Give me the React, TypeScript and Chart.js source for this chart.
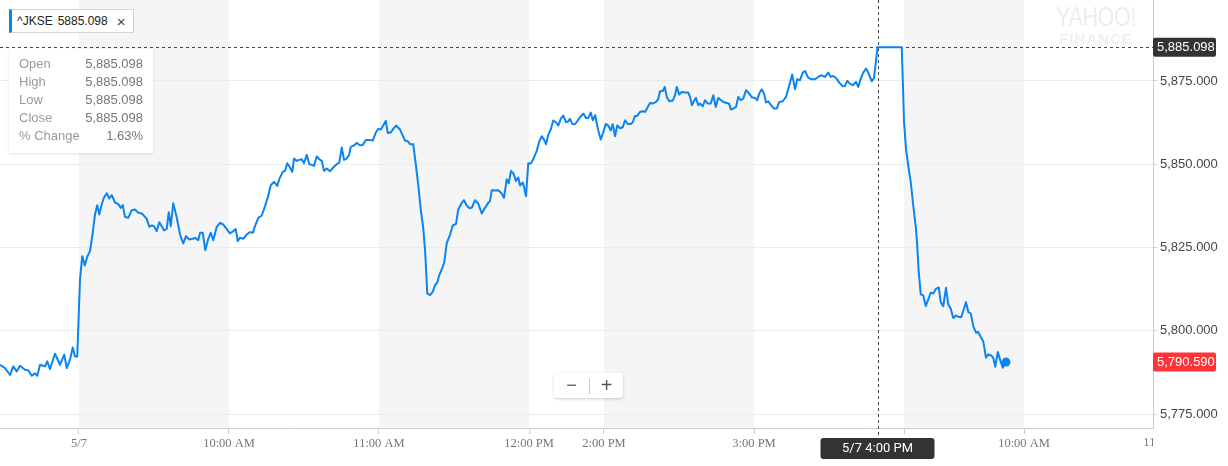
import React, { useEffect, useRef } from "react";
import { Chart, registerables } from "chart.js";

Chart.register(...registerables);

// ---- Data (x = trading minutes from 5/7 9:00 AM, ordinal timeline) ----
const prevDayTimes = [-31.6, -29.6, -27.6, -26.3, -24.9, -23.6, -21.6, -20.3, -18.9, -17.6, -16.7, -15.6, -13.6, -12.7, -11.6, -9.6, -7.6, -5.9, -4.9, -3.6, -2.5, -1.6, -0.7];
const prevDayValues = [5789.8, 5788.8, 5786.7, 5789.3, 5787.8, 5789.5, 5788.3, 5788.1, 5786.5, 5787.2, 5786.5, 5789.8, 5789.3, 5790.8, 5788.5, 5793.1, 5789.8, 5792.8, 5788.8, 5791.3, 5795, 5792.3, 5792.3];

const earlyTimes = [0.4, 1.3, 2.3, 3.3, 4.4, 5.5, 6.4, 7.3, 8.1, 9.1, 10, 11.1, 12.1, 13.1, 14.4, 15.7, 16.7, 17.5, 18.4, 19.7, 21.1, 22.4, 23.7, 25.1, 26.4, 27.1, 28.1, 29.1, 30, 31.1, 32.1, 33.1, 34, 35.1, 35.9, 36.7, 37.7, 39.1, 40.4, 41.7, 42.8, 44.1, 45.5, 46.4, 47.7, 48.4, 49.5, 50.5, 51.7, 52.7, 53.7, 55.1, 56.4, 57.7, 59.1, 60.4, 61.7, 62.7, 63.5, 64.4, 65.7, 67.1, 68.4, 69.5, 70.4, 71.7, 73.1, 74.4, 75.7, 76.7, 78, 79.3, 80.1];
const earlyValues = [5815.4, 5822.4, 5819.6, 5822.2, 5823.9, 5829.4, 5834.9, 5837.7, 5834.9, 5838, 5840, 5841.3, 5839.7, 5840.7, 5838.5, 5838, 5836.9, 5837.7, 5834.2, 5833.9, 5836.2, 5836.4, 5835.4, 5835.2, 5834.2, 5833.6, 5831.2, 5831.6, 5831.4, 5829.9, 5832.6, 5831.4, 5830.1, 5830.6, 5835.6, 5831.4, 5838.3, 5834, 5828.9, 5826.2, 5828.4, 5827.4, 5827.6, 5827.9, 5827.2, 5829.4, 5829.4, 5824.2, 5827.6, 5829.4, 5827.2, 5831.2, 5832.4, 5831.9, 5830.5, 5829.2, 5829.9, 5830.5, 5826.9, 5827.9, 5827.6, 5828.9, 5829.6, 5829.4, 5831.4, 5833.9, 5834.6, 5837.4, 5840.5, 5843.7, 5844.7, 5843.5, 5845.5];

const lateMorningTimes = [81.5, 82.4, 83.3, 84.4, 85.3, 86, 87.1, 88.1, 89.1, 90, 91.1, 92.1, 93.1, 94, 95.1, 96.1, 97.1, 98, 99.1, 100.4, 101.7, 103.1, 104.1, 105.1, 106, 107.1, 108, 108.7, 109.7, 111.1, 112.4, 113.5, 114.8, 116.1, 117.5, 118.8, 119.7, 120.7, 121.7, 122.7, 123.5, 124.8, 125.7, 126.8, 128.4, 129.5, 130.4, 131.5, 132.4, 133.7, 134.8, 135.9, 136.7, 137.7, 138.5, 139.3, 140.4, 141.5, 142.4, 143.3, 144.1, 145.1, 146.1, 147.1, 148.4, 149.5, 150.8, 151.7, 153.1, 154, 155.1, 156.1, 157.2, 158.4, 159.7, 161.1, 162.4, 163.7, 164.4, 165.1, 166.4, 167.7, 169.1, 170, 171.1, 171.9, 172.8, 173.7, 174.8, 175.7, 176.4, 177.5, 178, 178.8];
const lateMorningValues = [5847.7, 5848, 5850.3, 5849, 5847.7, 5851.7, 5851, 5851.3, 5851.5, 5850.3, 5852.8, 5850, 5849.8, 5849.5, 5852.3, 5851.5, 5851, 5848, 5848.7, 5847.9, 5849, 5850, 5850.5, 5855, 5851.3, 5851.7, 5852.7, 5855.2, 5855.5, 5856.4, 5855.7, 5855.8, 5857.3, 5857.3, 5857.1, 5859.6, 5860.6, 5860.4, 5861.6, 5863, 5859.4, 5859.6, 5860.6, 5861.6, 5860.4, 5858.6, 5857.1, 5856.9, 5856, 5856, 5849.5, 5842.4, 5836.4, 5830.8, 5823.3, 5811.2, 5810.7, 5811.7, 5813.7, 5814.4, 5816.7, 5818.4, 5820.5, 5826.3, 5828.8, 5831.6, 5832.1, 5836.4, 5838.4, 5839.2, 5837.6, 5836.8, 5837, 5839.2, 5838.2, 5835.2, 5836.9, 5838.4, 5838.9, 5842.2, 5842.1, 5842.2, 5841.2, 5839.9, 5845.5, 5844.3, 5848, 5847.3, 5845, 5846, 5843.6, 5844.5, 5843.2, 5840.4];

const afternoonOpenTimes = [179.7, 180.7, 181.7, 183.1, 184.1, 185.1, 186, 186.8, 187.7, 188.7, 189.7, 190.8, 191.7, 192.7, 193.7, 194.8, 195.6, 196.4, 197.3, 198.4, 199.5, 200.4];
const afternoonOpenValues = [5850.3, 5850.2, 5851.5, 5854, 5856.8, 5858.4, 5857.4, 5856, 5858.8, 5860.4, 5863.1, 5862.6, 5861.6, 5863.6, 5864.6, 5862.6, 5862.8, 5863.6, 5862.1, 5862, 5863.1, 5864.1];

const afternoonTimes = [201.7, 202.8, 203.7, 204.7, 205.5, 206.5, 207.6, 208.7, 209.7, 210.7, 211.7, 212.7, 213.5, 214.4, 215.3, 216.4, 217.5, 218.4, 219.5, 220.7, 221.5, 222.4, 223.3, 224.4, 225.5, 226.4, 227.3, 228.4, 229.5, 230.8, 231.7, 232.4, 233.5, 234.3, 235.1, 236.1, 237.5, 238.4, 239.1, 240.1, 241.1, 242.4, 243.7, 244.4, 245.2, 246, 246.8, 247.7, 248.4, 249.5, 250.4, 251.5, 252.7, 253.7, 254.7, 255.7, 256.8, 257.7, 259.1, 260, 260.8, 261.7, 262.8, 263.7, 264.7, 265.7, 266.8, 267.9, 269.1, 270.4, 271.3, 272.1, 273.1, 274, 274.8, 275.7, 276.8, 278, 279.1, 280.1, 281.5, 282.8, 284.1, 285.3, 286.4, 287.3, 288.4, 289.5, 290.4, 291.7, 293.1, 294.4, 295.7, 297.1, 298.4, 299.7, 300.7, 301.7, 302.8, 304.1, 305.5, 306.4, 307.3, 308.4, 309.5, 310.8, 311.7, 312.7, 313.7, 314.8, 315.7, 317.1, 318];
const afternoonValues = [5865.2, 5863.9, 5863.9, 5865.5, 5863.2, 5864.7, 5860.4, 5857.4, 5859.6, 5862.1, 5861.6, 5860.1, 5862, 5858.4, 5861.6, 5860.8, 5861.1, 5863.2, 5862.1, 5862.1, 5862.6, 5864.5, 5864.5, 5865.7, 5865.9, 5865.7, 5866.9, 5868.4, 5868.2, 5868.7, 5869.5, 5871.9, 5872, 5873.2, 5870.2, 5868.9, 5869.1, 5870.7, 5873.2, 5870.9, 5871.7, 5871.5, 5871.5, 5870.2, 5867.7, 5869, 5869.9, 5867.7, 5868.2, 5867.4, 5869.2, 5868.2, 5868.2, 5870.7, 5867.2, 5869.9, 5869.2, 5868.7, 5868.4, 5868.2, 5866.4, 5866.7, 5867.2, 5870.2, 5869.2, 5869.7, 5872.2, 5871.4, 5870.1, 5869.9, 5869.2, 5871.2, 5872.5, 5871.2, 5868.5, 5868.9, 5867.7, 5866.7, 5866.7, 5868.7, 5868.9, 5870.2, 5873.7, 5876.9, 5872.5, 5875.5, 5875.2, 5877.5, 5878, 5875.9, 5875.5, 5875.5, 5876.2, 5876.7, 5876.2, 5877.5, 5876.2, 5876.5, 5875.9, 5874.5, 5873.4, 5873.5, 5875, 5874.2, 5873.7, 5874.7, 5873.2, 5875.7, 5877.5, 5878.7, 5877.5, 5874.9, 5875.9];

const closeTimes = [319.4, 329.1];
const closeValues = [5885.098, 5885.098];

const nextDayTimes = [329.5, 330, 330.8, 331.7, 332.7, 333.7, 334.8, 335.3, 335.9, 336.7, 337.7, 338.7, 339.7, 340.7, 341.7, 342.8, 343.9, 344.7, 345.7, 346.8, 347.7, 348.7, 349.7, 350.8, 351.9, 352.9, 354, 354.8, 355.7, 356.7, 357.7, 358.8, 359.7, 360.7, 361.7, 362.8, 363.7, 364.8, 365.7, 366.5, 367.5, 368.4, 369.5, 370.8];
const nextDayValues = [5875.7, 5862.7, 5854.6, 5849.6, 5844.6, 5837.6, 5830.5, 5825.5, 5817.5, 5810.9, 5810.6, 5807.4, 5809.4, 5811.4, 5811.2, 5812.6, 5813, 5808.6, 5807.4, 5812.9, 5807.9, 5806.6, 5803.8, 5804.6, 5804.1, 5804.1, 5806.6, 5808.6, 5805.6, 5805.2, 5801.4, 5799.4, 5799.6, 5798.1, 5796.8, 5791.9, 5792.9, 5792.6, 5791.9, 5789.2, 5793.6, 5791.4, 5788.9, 5790.59];

const xTickTimes = [0, 60, 120, 180, 210, 270, 330, 378];
const xTickLabels = ["5/7", "10:00 AM", "11:00 AM", "12:00 PM", "2:00 PM", "3:00 PM", "4:00 PM", "10:00 AM"];
const clippedTickTime = 436;
const clippedTickLabel = "11:00 AM";
const yTickValues = [5775, 5800, 5825, 5850, 5875];
const shadedBandStarts = [0, 120, 210, 330];
const shadedBandEnds = [60, 180, 270, 378];

const X_MIN = -31.6;
const X_MAX = 429.6;
const Y_MIN = 5770.8;
const Y_MAX = 5899.3;

const SYMBOL = "^JKSE";
const CROSS_TIME = 319.4;
const CROSS_LABEL = "5/7 4:00 PM";
const CLOSE_PRICE = 5885.098;
const LAST_PRICE = 5790.59;
const infoLabels = ["Open", "High", "Low", "Close", "% Change"];
const infoValues = ["5,885.098", "5,885.098", "5,885.098", "5,885.098", "1.63%"];

const BLUE = "#0a84f0";
const SANS = '"Liberation Sans", Arial, Helvetica, sans-serif';
const SERIF = '"Liberation Serif", "Times New Roman", serif';

const fmt = (v: number) =>
  v.toLocaleString("en-US", { minimumFractionDigits: 3, maximumFractionDigits: 3 });

function buildPoints() {
  const groups: [number[], number[]][] = [
    [prevDayTimes, prevDayValues],
    [earlyTimes, earlyValues],
    [lateMorningTimes, lateMorningValues],
    [afternoonOpenTimes, afternoonOpenValues],
    [afternoonTimes, afternoonValues],
    [closeTimes, closeValues],
    [nextDayTimes, nextDayValues],
  ];
  const pts: { x: number; y: number }[] = [];
  for (const [t, v] of groups) {
    const n = Math.min(t.length, v.length);
    for (let i = 0; i < n; i++) pts.push({ x: t[i], y: v[i] });
  }
  return pts;
}

function rrect(ctx: CanvasRenderingContext2D, x: number, y: number, w: number, h: number, r: number) {
  ctx.beginPath();
  ctx.moveTo(x + r, y);
  ctx.lineTo(x + w - r, y);
  ctx.quadraticCurveTo(x + w, y, x + w, y + r);
  ctx.lineTo(x + w, y + h - r);
  ctx.quadraticCurveTo(x + w, y + h, x + w - r, y + h);
  ctx.lineTo(x + r, y + h);
  ctx.quadraticCurveTo(x, y + h, x, y + h - r);
  ctx.lineTo(x, y + r);
  ctx.quadraticCurveTo(x, y, x + r, y);
  ctx.closePath();
}

const zeroPadding = (s: any) => {
  s.paddingLeft = 0;
  s.paddingRight = 0;
  s.paddingTop = 0;
  s.paddingBottom = 0;
};

const decorPlugin = {
  id: "decor",
  beforeDraw(chart: any) {
    const { ctx, chartArea, scales } = chart;
    const xs = scales.x;
    ctx.save();
    ctx.fillStyle = "#f5f5f5";
    for (let i = 0; i < shadedBandStarts.length; i++) {
      const a = xs.getPixelForValue(shadedBandStarts[i]);
      const b = xs.getPixelForValue(shadedBandEnds[i]);
      ctx.fillRect(a, chartArea.top, b - a, chartArea.bottom - chartArea.top);
    }
    ctx.restore();
  },
  beforeDatasetsDraw(chart: any) {
    const { ctx, chartArea, scales } = chart;
    const cx = Math.round(scales.x.getPixelForValue(CROSS_TIME)) + 0.5;
    const cy = Math.round(scales.y.getPixelForValue(CLOSE_PRICE)) + 0.5;
    ctx.save();
    ctx.strokeStyle = "#444";
    ctx.lineWidth = 1;
    ctx.setLineDash([3, 3]);
    ctx.beginPath();
    ctx.moveTo(chartArea.left, cy);
    ctx.lineTo(chartArea.right, cy);
    ctx.stroke();
    ctx.beginPath();
    ctx.moveTo(cx, chartArea.top);
    ctx.lineTo(cx, chartArea.bottom + 10);
    ctx.stroke();
    ctx.restore();
  },
  afterDraw(chart: any) {
    const { ctx, chartArea, scales } = chart;
    const xs = scales.x;
    const ys = scales.y;
    ctx.save();
    ctx.save();
    ctx.beginPath();
    ctx.rect(chartArea.right - 40, chartArea.bottom + 1, 40, 36);
    ctx.clip();
    ctx.font = "12.5px " + SERIF;
    ctx.fillStyle = "#777";
    ctx.textAlign = "center";
    ctx.textBaseline = "top";
    ctx.fillText(clippedTickLabel, xs.getPixelForValue(clippedTickTime), chartArea.bottom + 8);
    ctx.restore();

    const tag = (value: number, color: string) => {
      const y = ys.getPixelForValue(value);
      ctx.fillStyle = color;
      rrect(ctx, chartArea.right, y - 9.5, 63, 19, 2);
      ctx.fill();
      ctx.fillStyle = "#fff";
      ctx.font = "13px " + SANS;
      ctx.textAlign = "left";
      ctx.textBaseline = "middle";
      ctx.fillText(fmt(value), chartArea.right + 4, y + 0.5);
    };
    tag(CLOSE_PRICE, "#333333");
    tag(LAST_PRICE, "#ff333a");

    const cx = xs.getPixelForValue(CROSS_TIME);
    ctx.fillStyle = "#333333";
    rrect(ctx, cx - 57, chartArea.bottom + 10, 114, 21, 3);
    ctx.fill();
    ctx.fillStyle = "#fff";
    ctx.font = "13px Roboto, " + SANS;
    ctx.textAlign = "center";
    ctx.textBaseline = "middle";
    ctx.fillText(CROSS_LABEL, cx, chartArea.bottom + 21);
    ctx.restore();
  },
};

export default function App() {
  const ref = useRef<HTMLCanvasElement | null>(null);

  useEffect(() => {
    if (!ref.current) return;
    const points = buildPoints();
    const last = points.length - 1;
    const chart = new Chart(ref.current, {
      type: "line",
      data: {
        datasets: [
          {
            data: points,
            borderColor: BLUE,
            borderWidth: 2,
            borderJoinStyle: "round",
            tension: 0,
            fill: false,
            pointRadius: (c: any) => (c.dataIndex === last ? 4.5 : 0),
            pointHoverRadius: 0,
            pointBackgroundColor: BLUE,
            pointBorderWidth: 0,
          } as any,
        ],
      },
      options: {
        responsive: false,
        maintainAspectRatio: false,
        animation: false,
        events: [],
        layout: { padding: 0, autoPadding: false },
        plugins: { legend: { display: false }, tooltip: { enabled: false } },
        scales: {
          x: {
            type: "linear",
            min: X_MIN,
            max: X_MAX,
            afterBuildTicks: (s: any) => {
              s.ticks = xTickTimes.map((v) => ({ value: v }));
            },
            afterFit: (s: any) => {
              s.height = 38;
              zeroPadding(s);
            },
            ticks: {
              autoSkip: false,
              maxRotation: 0,
              padding: 2,
              color: "#777",
              font: { family: SERIF, size: 12.5 },
              callback: (_v: any, i: number) => xTickLabels[i],
            },
            grid: { drawOnChartArea: false, tickLength: 6, color: "#cccccc" },
            border: { color: "#cccccc" },
          },
          y: {
            type: "linear",
            position: "right",
            min: Y_MIN,
            max: Y_MAX,
            afterBuildTicks: (s: any) => {
              s.ticks = yTickValues.map((v) => ({ value: v }));
            },
            afterFit: (s: any) => {
              s.width = 75;
              zeroPadding(s);
            },
            ticks: {
              padding: 3,
              color: "#464646",
              font: { family: SANS, size: 13 },
              callback: (v: any) => fmt(Number(v)),
            },
            grid: { color: "#ebebeb", tickColor: "#cccccc", tickLength: 4 },
            border: { color: "#cccccc" },
          },
        },
      } as any,
      plugins: [decorPlugin],
    });
    return () => chart.destroy();
  }, []);

  return (
    <div style={{ position: "absolute", left: 0, top: 0, width: 1228, height: 466, background: "#fff", overflow: "hidden" }}>
      <canvas ref={ref} width={1228} height={466} style={{ display: "block", width: 1228, height: 466 }} />
      {/* Yahoo Finance watermark */}
      <div style={{ position: "absolute", left: 1046, top: 3, width: 100, textAlign: "center", pointerEvents: "none" }}>
        <div style={{ fontFamily: SANS, fontSize: 27, lineHeight: "28px", color: "#ededed", transform: "scaleX(0.8)", letterSpacing: -0.5 }}>YAHOO!</div>
        <div style={{ fontFamily: SANS, fontSize: 15, fontWeight: 700, lineHeight: "15px", color: "#f0f0f0", letterSpacing: 1 }}>FINANCE</div>
      </div>
      {/* Legend chip */}
      <div
        style={{
          position: "absolute", left: 9, top: 9, width: 121, height: 22,
          border: "1px solid #d5d5d5", borderLeft: "3px solid " + BLUE, background: "#fff",
          fontFamily: SANS, fontSize: 12, color: "#222", display: "flex", alignItems: "center", boxSizing: "content-box",
        }}
      >
        <span style={{ marginLeft: 5 }}>{SYMBOL}</span>
        <span style={{ marginLeft: 5 }}>{CLOSE_PRICE.toFixed(3)}</span>
        <span style={{ marginLeft: 9, fontSize: 15, color: "#444" }}>×</span>
      </div>
      {/* Info box */}
      <div
        style={{
          position: "absolute", left: 9, top: 49, width: 144, height: 104, background: "rgba(255,255,255,0.95)",
          borderRadius: 3, boxShadow: "0 1px 3px rgba(0,0,0,0.12)", fontFamily: SANS, fontSize: 13,
          boxSizing: "border-box", padding: "6px 10px 0 10px",
        }}
      >
        {infoLabels.map((l, i) => (
          <div key={l} style={{ display: "flex", justifyContent: "space-between", height: 18, lineHeight: "18px" }}>
            <span style={{ color: "#9a9a9a" }}>{l}</span>
            <span style={{ color: "#777" }}>{infoValues[i]}</span>
          </div>
        ))}
      </div>
      {/* Zoom control */}
      <div
        style={{
          position: "absolute", left: 554, top: 373, width: 69, height: 25, background: "#fff",
          borderRadius: 3, boxShadow: "0 1px 3px rgba(0,0,0,0.2)", display: "flex", alignItems: "center",
          fontFamily: SANS, color: "#555",
        }}
      >
        <span style={{ width: 35, textAlign: "center", fontSize: 18, lineHeight: "25px" }}>−</span>
        <span style={{ width: 1, height: 16, background: "#ccc" }} />
        <span style={{ width: 33, textAlign: "center", fontSize: 20, lineHeight: "25px" }}>+</span>
      </div>
    </div>
  );
}
